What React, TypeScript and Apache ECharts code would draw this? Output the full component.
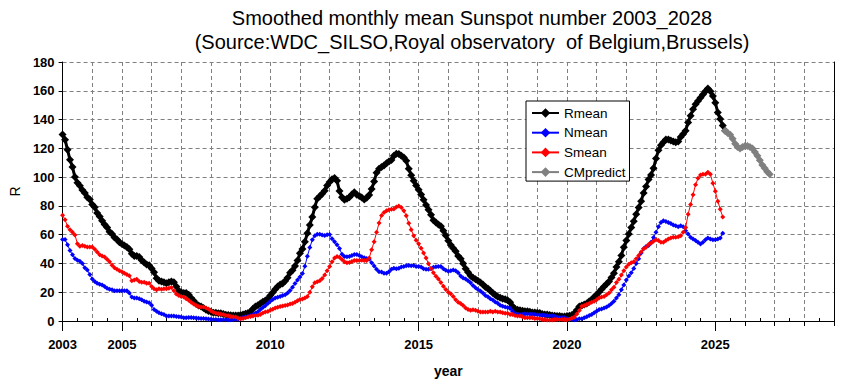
import React, { useEffect, useRef } from "react";
import * as echarts from "echarts";

const START_YEAR = 2003;

// Smoothed monthly mean, monthly from 2003-01
const rmean = [
  129.7, 126, 119, 112, 107, 100, 96, 94, 91, 89, 86, 84.5,
  81, 79, 75, 72.6, 69.6, 67, 65, 62, 60.5, 58, 56.6, 54.8,
  53.6, 52.5, 51.4, 49.8, 46.8, 45.2, 45.2, 44.5, 42.2, 40.6, 39.3, 38.8,
  36.5, 33.8, 29.7, 27.9, 27.4, 26.9, 26.3, 26.9, 27.4, 26.9, 24, 21,
  20, 19.4, 19.4, 18.3, 16, 14, 12, 10.8, 10, 9, 7.8, 7,
  6.4, 5.8, 5.7, 5.4, 5.3, 4.8, 4.4, 4.2, 4, 3.9, 3.9, 3.9,
  4.1, 4.5, 5.1, 5.6, 6.4, 8.5, 10, 11, 12.2, 13.3, 14.3, 15.5,
  17.8, 19.8, 22, 24, 25.3, 26, 27.8, 30, 33.5, 35.2, 38.3, 42,
  47, 50, 55, 61, 66.7, 72.3, 79, 85, 86.7, 88.5, 90.6, 94.2,
  96.6, 98.6, 99.4, 97.4, 90.3, 86, 84.3, 85, 86, 88, 89.4, 87.7,
  86.9, 85.9, 84.5, 85.7, 87.5, 91.7, 97, 103, 105.8, 107, 108, 109.6,
  110.8, 111.9, 114.8, 116.2, 116.1, 114.9, 113.6, 111.3, 105.8, 101.3, 97.4, 94.2,
  91.2, 88, 84.3, 80.7, 77.3, 73.8, 70, 68.5, 67, 65.8, 62.8, 59.5,
  55.8, 52.9, 50.6, 48.4, 45.2, 43.2, 40, 36.3, 33.8, 31.5, 30.1, 29,
  27.9, 26.7, 25.3, 23.7, 22.6, 21, 19.4, 18, 16.9, 16.2, 15.5, 15.1,
  14.4, 13, 10.3, 8.4, 7.8, 7.5, 7.1, 6.8, 6.8, 6.4, 5.9, 5.9,
  5.7, 5.5, 4.8, 4.6, 4.6, 4.1, 3.9, 3.7, 3.4, 3.4, 3.2, 3.2,
  3.4, 3.7, 4.2, 5.3, 7.6, 10, 10.7, 11.4, 12.1, 13.7, 14.8, 16.7,
  18.3, 20.1, 22.1, 24, 25.8, 27.4, 30.3, 33.1, 37.6, 41.1, 45.6, 51.3,
  55.9, 60.5, 65, 69.4, 74.2, 78.9, 83.3, 89, 93.5, 98.3, 101.5, 106.1,
  112.9, 118.6, 122.1, 124.3, 126.2, 126.2, 125.5, 124.8, 124.3, 124.8, 127.8, 130,
  132.3, 138, 142.6, 147.2, 150.6, 152.9, 155.1, 157.4, 159.7, 161.5, 159.7, 156.3,
  151.7, 144.9, 140.3, 135.8, 132.3,
];

const nmean = [
  56.6, 56.6, 53, 49, 46.1, 43.4, 42.2, 41.6, 40, 37, 35.4, 32.4,
  29.2, 27.4, 26.3, 25.6, 25.1, 24, 22.8, 22.1, 21.7, 21, 21, 21,
  21, 21, 21, 19.4, 16.7, 16, 16, 15.5, 14.8, 13.7, 13.2, 12.6,
  11, 8, 6.8, 5.7, 5, 4.6, 3.4, 3.4, 3.4, 3.4, 3.2, 3,
  2.7, 2.3, 2.3, 2.5, 2.5, 2.3, 2.0, 1.9, 1.75, 1.7, 1.6, 1.4,
  1.2, 1.1, 1.0, 0.9, 0.9, 0.9, 0.9, 0.9, 0.9, 0.9, 1.0, 1.3,
  1.8, 2.4, 3.0, 3.3, 3.7, 4.3, 5.3, 6.4, 8, 9.4, 10.6, 12.2,
  13.8, 15, 16, 16.5, 17.1, 17.7, 18.3, 19.4, 21.2, 23.5, 26, 28.5,
  30.5, 33, 38, 45, 51, 56.5, 59.2, 60.3, 60.3, 59.7, 59.4, 59.9,
  60.1, 57.1, 55.1, 53, 50.3, 46.4, 44.8, 44.6, 44.8, 45.5, 46.2, 46.2,
  45.5, 44.6, 43.9, 43.4, 43, 40.5, 38.2, 35.9, 34.3, 34, 33.1, 33.1,
  34.3, 35.9, 36.6, 36.3, 36.6, 37.5, 37.9, 38.4, 38.6, 38.4, 38.6, 37.9,
  37.9, 37.5, 36.3, 35.9, 35.9, 36.3, 37.3, 37.7, 37.9, 37.9, 36.3, 35.2,
  34.5, 34.9, 35.4, 34.9, 33.6, 31.3, 29.9, 29.2, 27.9, 26.5, 24.7, 23.1,
  21.9, 20.8, 19.4, 17.8, 16.9, 15.5, 14.6, 13.2, 12.3, 11, 10.3, 9.8,
  9.4, 8.7, 6.8, 5, 4.8, 4.6, 4.5, 4.8, 4.8, 4.8, 4.5, 4.5,
  4.3, 4.2, 4, 3.8, 3.9, 3.6, 3.4, 3.1, 2.8, 2.6, 2.4, 2.2,
  1.7, 1.4, 1.0, 0.9, 1.0, 1.5, 1.6, 2.3, 3, 3.9, 4.6, 5.7,
  6.8, 8, 8.4, 9.1, 9.8, 10.7, 12.1, 13.7, 16, 18.3, 21.7, 25.1,
  28.5, 31.2, 33.5, 36.5, 39.9, 43.3, 47.2, 50.2, 51.8, 52.5, 54.8, 58,
  61.6, 65.5, 68.4, 69.6, 69.1, 68.4, 67.8, 66.8, 66.2, 65.5, 66.2, 65.5,
  62.7, 60.5, 58.2, 57, 55.9, 54.8, 53.6, 54.8, 56.4, 57.7, 57, 56.4,
  56.4, 57, 57.7, 61,
];

const smean = [
  73.5, 70.3, 65.8, 63.5, 61.6, 59.8, 53.7, 52, 52.5, 52, 51.4, 51.4,
  51.4, 49.8, 47.9, 46.1, 45.2, 44.5, 42.9, 41.1, 38.8, 37, 36, 34.9,
  34.2, 33.1, 32.4, 31.5, 27.9, 28.5, 29, 27.4, 26.9, 26.9, 26.3, 26.3,
  24, 22.4, 21.7, 22.4, 22.1, 22.4, 22.4, 22.8, 23.3, 21, 18.7, 17.8,
  17.1, 16.7, 15.5, 14.5, 13, 11.8, 10.8, 10, 9.8, 9.7, 9.1, 8.3,
  7.2, 6, 5.3, 5.1, 4.8, 4.5, 3.9, 3.6, 3.2, 3, 2.7, 1.9,
  1.6, 1.7, 2.3, 2.8, 3.2, 3.5, 3.9, 4.0, 4.6, 5.5, 6.2, 6.6,
  7.4, 8.2, 9.1, 9.6, 10, 10.4, 10.7, 11.2, 11.8, 12.2, 13, 14,
  14.9, 15.3, 16, 17.1, 19.9, 23.8, 26.5, 27.2, 27.9, 29.5, 32, 35,
  37.9, 41.1, 43.7, 44.8, 44.3, 42.7, 41.1, 40.5, 40.7, 41.4, 42.1, 42.1,
  42.1, 42.3, 42.1, 42.1, 43.7, 49.6, 55.1, 61.7, 68.1, 73.4, 75.4, 76.6,
  77.3, 77.7, 77.9, 79.3, 80, 78.9, 76.6, 73.1, 67.9, 63.5, 59.2, 56.2,
  53.7, 50.5, 47.3, 43.7, 39.8, 36.5, 33.5, 31.1, 29.2, 26.7, 24.2, 21.9,
  19.9, 19, 17.1, 14.8, 13, 12.1, 10.7, 9.1, 8, 7.5, 7.8, 7.5,
  6.8, 6.2, 6.2, 6.2, 6.2, 6.8, 6.2, 6.8, 6.2, 6.2, 5.7, 5.3,
  5.3, 4.6, 4.6, 3.9, 3.4, 3.4, 3, 2.3, 2.3, 2.3, 2.3, 1.8,
  1.8, 1.6, 1.1, 1.1, 0.7, 0.7, 0.7, 1.1, 1.1, 1.1, 1.1, 1.1,
  0.9, 1.2, 2, 2.8, 4.9, 7.3, 10.3, 10.7, 11.4, 12.1, 13, 13.7,
  14.8, 16, 16.7, 17.1, 18.3, 19.4, 21.7, 23.5, 26.7, 29, 31.9, 34.9,
  37.6, 39.5, 40.4, 41.1, 43.3, 45.6, 47.9, 50.2, 51.3, 53.2, 54.1, 55.4,
  56.4, 55.9, 54.8, 54.8, 55.9, 57, 57.7, 58.2, 58.2, 58.6, 59.3, 61.6,
  65, 74.2, 81, 87.8, 94.7, 99.2, 101.5, 102, 102, 103.4, 102, 95.8,
  90.1, 83.3, 77.6, 72.3,
];

// CM prediction, monthly, starting at month index 268 (2025-05)
const CM_START_INDEX = 268;
const cmpredict = [
  132.3, 130.7, 129.4, 126.6, 123.2, 120.9, 119.8, 120.9, 121.6, 121.6,
  120.9, 119.8, 117.5, 114.8, 111.8, 108.4, 106.1, 103.8, 102,
];

const LABEL_YEARS = [2003, 2005, 2010, 2015, 2020, 2025];
const LONG_TICK_YEARS = [2003, 2005, 2010, 2015, 2020, 2025];
const X_MIN = 2003;
const X_MAX = 2029;

const TITLE =
  "Smoothed monthly mean Sunspot number 2003_2028\n(Source:WDC_SILSO,Royal observatory  of Belgium,Brussels)";

const toPairs = (arr: number[], startIndex: number) =>
  arr.map((v, i) => [START_YEAR + (startIndex + i) / 12, v]);

export default function App() {
  const ref = useRef<HTMLDivElement>(null);

  useEffect(() => {
    if (!ref.current) return;
    const chart = echarts.init(ref.current, undefined, { renderer: "svg" });
    const tickFont = "'Liberation Sans', Arial, sans-serif";
    const halfYears: number[] = [];
    for (let y = X_MIN; y < X_MAX; y++) halfYears.push(y + 0.5);

    const dashed = { color: "#808080", type: [4, 3] as any, width: 1 };

    chart.setOption({
      animation: false,
      backgroundColor: "#ffffff",
      title: {
        text: TITLE,
        left: 472,
        top: 6,
        textAlign: "center",
        padding: 0,
        textStyle: {
          fontFamily: tickFont,
          fontSize: 20,
          fontWeight: "normal",
          lineHeight: 24,
          color: "#000",
        },
      },
      legend: {
        left: 526,
        top: 101,
        orient: "vertical",
        backgroundColor: "#fff",
        borderColor: "#000",
        borderWidth: 1,
        borderRadius: 0,
        padding: [5, 4, 2, 5],
        itemWidth: 27,
        itemHeight: 12,
        itemGap: 5.7,
        textStyle: { fontFamily: tickFont, fontSize: 13.5, color: "#000" },
        data: ["Rmean", "Nmean", "Smean", "CMpredict"],
      },
      grid: { left: 57, right: 17, top: 62, bottom: 58, containLabel: false },
      xAxis: [
        {
          type: "value",
          min: X_MIN,
          max: X_MAX,
          interval: 1,
          position: "bottom",
          axisLine: { show: true, onZero: false, lineStyle: { color: "#000", width: 1 } },
          axisTick: { show: true, length: 5, lineStyle: { color: "#000" } },
          axisLabel: {
            show: true,
            customValues: LABEL_YEARS,
            margin: 17,
            fontFamily: tickFont,
            fontWeight: "bold",
            fontSize: 13,
            color: "#000",
            formatter: (v: number) => String(v),
          },
          splitLine: { show: true, lineStyle: dashed },
          name: "year",
          nameLocation: "middle",
          nameGap: 43,
          nameTextStyle: {
            fontFamily: tickFont,
            fontWeight: "bold",
            fontSize: 14,
            color: "#000",
          },
        },
        {
          type: "value",
          min: X_MIN,
          max: X_MAX,
          position: "bottom",
          axisLine: { show: false },
          axisTick: { show: true, customValues: LONG_TICK_YEARS, length: 10, lineStyle: { color: "#000" } },
          axisLabel: { show: false },
          splitLine: { show: false },
        },
        {
          type: "value",
          min: X_MIN,
          max: X_MAX,
          position: "bottom",
          axisLine: { show: false },
          axisTick: { show: true, inside: true, customValues: halfYears, length: 3, lineStyle: { color: "#000" } },
          axisLabel: { show: false },
          splitLine: { show: false },
        },
      ],
      yAxis: [
        {
          type: "value",
          min: 0,
          max: 180,
          interval: 20,
          position: "left",
          axisLine: { show: true, lineStyle: { color: "#000", width: 1 } },
          axisTick: { show: true, length: 4, lineStyle: { color: "#000" } },
          axisLabel: {
            margin: 8,
            fontFamily: tickFont,
            fontWeight: "bold",
            fontSize: 13,
            color: "#000",
          },
          splitLine: { show: true, lineStyle: dashed },
          name: "R",
          nameLocation: "middle",
          nameGap: 37,
          nameTextStyle: { fontFamily: tickFont, fontSize: 14, color: "#000" },
        },
        {
          type: "value",
          min: 0,
          max: 180,
          interval: 20,
          position: "right",
          axisLine: { show: true, lineStyle: { color: "#000", width: 1 } },
          axisTick: { show: false },
          axisLabel: { show: false },
          splitLine: { show: false },
        },
      ],
      series: [
        {
          name: "Rmean",
          type: "line",
          data: toPairs(rmean, 0),
          symbol: "diamond",
          symbolSize: 8,
          showAllSymbol: true,
          lineStyle: { color: "#000", width: 3 },
          itemStyle: { color: "#000" },
          z: 2,
        },
        {
          name: "Nmean",
          type: "line",
          data: toPairs(nmean, 0),
          symbol: "diamond",
          symbolSize: 5,
          showAllSymbol: true,
          lineStyle: { color: "#0000ff", width: 1 },
          itemStyle: { color: "#0000ff" },
          z: 3,
        },
        {
          name: "Smean",
          type: "line",
          data: toPairs(smean, 0),
          symbol: "diamond",
          symbolSize: 5,
          showAllSymbol: true,
          lineStyle: { color: "#ff0000", width: 1 },
          itemStyle: { color: "#ff0000" },
          z: 4,
        },
        {
          name: "CMpredict",
          type: "line",
          data: toPairs(cmpredict, CM_START_INDEX),
          symbol: "diamond",
          symbolSize: 8,
          showAllSymbol: true,
          lineStyle: { color: "#808080", width: 3 },
          itemStyle: { color: "#808080" },
          z: 5,
        },
      ],
    });
    return () => chart.dispose();
  }, []);

  return (
    <div
      ref={ref}
      style={{ position: "fixed", left: 0, top: 0, width: 851, height: 383, background: "#fff" }}
    />
  );
}
